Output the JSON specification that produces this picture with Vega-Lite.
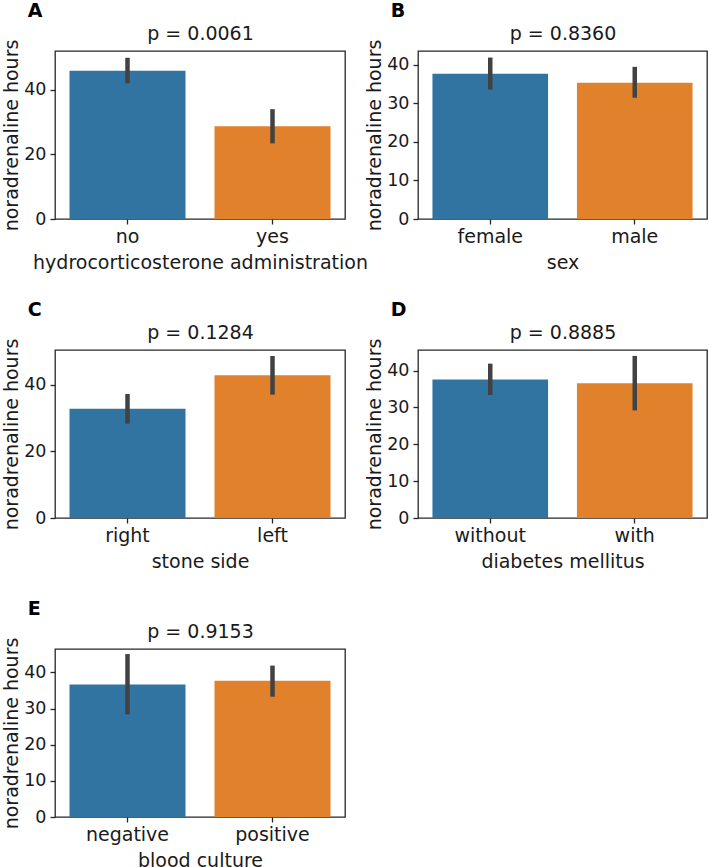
{
  "$schema": "https://vega.github.io/schema/vega-lite/v6.json",
  "background": "white",
  "padding": {"left": 2, "top": 1, "right": 0, "bottom": 0},
  "datasets": {
    "stats": [
      {"panel": "A", "group": "no", "mean": 45.9, "lo": 42.0, "hi": 49.9},
      {"panel": "A", "group": "yes", "mean": 28.7, "lo": 23.4, "hi": 34.0},
      {"panel": "B", "group": "female", "mean": 37.6, "lo": 33.5, "hi": 41.8},
      {"panel": "B", "group": "male", "mean": 35.3, "lo": 31.4, "hi": 39.4},
      {"panel": "C", "group": "right", "mean": 32.8, "lo": 28.3, "hi": 37.2},
      {"panel": "C", "group": "left", "mean": 42.8, "lo": 37.0, "hi": 48.6},
      {"panel": "D", "group": "without", "mean": 37.6, "lo": 33.4, "hi": 41.9},
      {"panel": "D", "group": "with", "mean": 36.55, "lo": 29.2, "hi": 44.0},
      {"panel": "E", "group": "negative", "mean": 36.7, "lo": 28.4, "hi": 45.1},
      {"panel": "E", "group": "positive", "mean": 37.7, "lo": 33.3, "hi": 41.9}
    ]
  },
  "data": {"name": "stats"},
  "columns": 2,
  "bounds": "flush",
  "spacing": {"row": 131, "column": 73},
  "concat": [
    {
      "title": {"text": "A"},
      "width": 290, "height": 168,
      "transform": [{"filter": "datum.panel == 'A'"}],
      "resolve": {"axis": {"x": "independent"}},
      "layer": [
        {
          "mark": {"type": "bar"},
          "encoding": {
            "x": {"field": "group", "type": "nominal", "sort": ["no", "yes"], "scale": {"paddingInner": 0.2, "paddingOuter": 0.1}, "axis": {"title": "hydrocorticosterone administration"}},
            "y": {"field": "mean", "type": "quantitative", "scale": {"domain": [0, 52], "nice": false}, "axis": {"values": [0, 20, 40], "title": "noradrenaline hours"}},
            "color": {"field": "group", "type": "nominal", "legend": null, "scale": {"domain": ["no", "yes", "female", "male", "right", "left", "without", "with", "negative", "positive"], "range": ["#3274a1", "#e1812c", "#3274a1", "#e1812c", "#3274a1", "#e1812c", "#3274a1", "#e1812c", "#3274a1", "#e1812c"]}}
          }
        },
        {
          "mark": {"type": "rule", "color": "#424242", "strokeWidth": 4.5},
          "encoding": {
            "x": {"field": "group", "type": "nominal", "sort": ["no", "yes"], "axis": {"orient": "top", "title": "p = 0.0061"}},
            "y": {"field": "lo", "type": "quantitative"},
            "y2": {"field": "hi"}
          }
        }
      ]
    },
    {
      "title": {"text": "B"},
      "width": 289, "height": 168,
      "transform": [{"filter": "datum.panel == 'B'"}],
      "resolve": {"axis": {"x": "independent"}},
      "layer": [
        {
          "mark": {"type": "bar"},
          "encoding": {
            "x": {"field": "group", "type": "nominal", "sort": ["female", "male"], "scale": {"paddingInner": 0.2, "paddingOuter": 0.1}, "axis": {"title": "sex"}},
            "y": {"field": "mean", "type": "quantitative", "scale": {"domain": [0, 43.5], "nice": false}, "axis": {"values": [0, 10, 20, 30, 40], "title": "noradrenaline hours"}},
            "color": {"field": "group", "type": "nominal", "legend": null}
          }
        },
        {
          "mark": {"type": "rule", "color": "#424242", "strokeWidth": 4.5},
          "encoding": {
            "x": {"field": "group", "type": "nominal", "sort": ["female", "male"], "axis": {"orient": "top", "title": "p = 0.8360"}},
            "y": {"field": "lo", "type": "quantitative"},
            "y2": {"field": "hi"}
          }
        }
      ]
    },
    {
      "title": {"text": "C"},
      "width": 290, "height": 168,
      "transform": [{"filter": "datum.panel == 'C'"}],
      "resolve": {"axis": {"x": "independent"}},
      "layer": [
        {
          "mark": {"type": "bar"},
          "encoding": {
            "x": {"field": "group", "type": "nominal", "sort": ["right", "left"], "scale": {"paddingInner": 0.2, "paddingOuter": 0.1}, "axis": {"title": "stone side"}},
            "y": {"field": "mean", "type": "quantitative", "scale": {"domain": [0, 50.4], "nice": false}, "axis": {"values": [0, 20, 40], "title": "noradrenaline hours"}},
            "color": {"field": "group", "type": "nominal", "legend": null}
          }
        },
        {
          "mark": {"type": "rule", "color": "#424242", "strokeWidth": 4.5},
          "encoding": {
            "x": {"field": "group", "type": "nominal", "sort": ["right", "left"], "axis": {"orient": "top", "title": "p = 0.1284"}},
            "y": {"field": "lo", "type": "quantitative"},
            "y2": {"field": "hi"}
          }
        }
      ]
    },
    {
      "title": {"text": "D"},
      "width": 289, "height": 168,
      "transform": [{"filter": "datum.panel == 'D'"}],
      "resolve": {"axis": {"x": "independent"}},
      "layer": [
        {
          "mark": {"type": "bar"},
          "encoding": {
            "x": {"field": "group", "type": "nominal", "sort": ["without", "with"], "scale": {"paddingInner": 0.2, "paddingOuter": 0.1}, "axis": {"title": "diabetes mellitus"}},
            "y": {"field": "mean", "type": "quantitative", "scale": {"domain": [0, 45.6], "nice": false}, "axis": {"values": [0, 10, 20, 30, 40], "title": "noradrenaline hours"}},
            "color": {"field": "group", "type": "nominal", "legend": null}
          }
        },
        {
          "mark": {"type": "rule", "color": "#424242", "strokeWidth": 4.5},
          "encoding": {
            "x": {"field": "group", "type": "nominal", "sort": ["without", "with"], "axis": {"orient": "top", "title": "p = 0.8885"}},
            "y": {"field": "lo", "type": "quantitative"},
            "y2": {"field": "hi"}
          }
        }
      ]
    },
    {
      "title": {"text": "E"},
      "width": 290, "height": 168,
      "transform": [{"filter": "datum.panel == 'E'"}],
      "resolve": {"axis": {"x": "independent"}},
      "layer": [
        {
          "mark": {"type": "bar"},
          "encoding": {
            "x": {"field": "group", "type": "nominal", "sort": ["negative", "positive"], "scale": {"paddingInner": 0.2, "paddingOuter": 0.1}, "axis": {"title": "blood culture"}},
            "y": {"field": "mean", "type": "quantitative", "scale": {"domain": [0, 46.5], "nice": false}, "axis": {"values": [0, 10, 20, 30, 40], "title": "noradrenaline hours"}},
            "color": {"field": "group", "type": "nominal", "legend": null}
          }
        },
        {
          "mark": {"type": "rule", "color": "#424242", "strokeWidth": 4.5},
          "encoding": {
            "x": {"field": "group", "type": "nominal", "sort": ["negative", "positive"], "axis": {"orient": "top", "title": "p = 0.9153"}},
            "y": {"field": "lo", "type": "quantitative"},
            "y2": {"field": "hi"}
          }
        }
      ]
    }
  ],
  "config": {
    "font": "DejaVu Sans",
    "view": {"stroke": "#262626", "strokeWidth": 1.3},
    "axis": {
      "domain": false, "grid": false,
      "tickColor": "#262626", "tickWidth": 1.3, "tickSize": 5,
      "labelColor": "#1a1a1a", "titleColor": "#1a1a1a",
      "labelFont": "DejaVu Sans", "titleFont": "DejaVu Sans",
      "titleFontWeight": "normal", "titleFontSize": 19
    },
    "axisY": {"labelFontSize": 17.5, "labelPadding": 4, "titlePadding": 2},
    "axisBottom": {"labelFontSize": 19, "labelAngle": 0, "labelPadding": 3, "titlePadding": 7},
    "axisTop": {"labels": false, "ticks": false, "titleFontSize": 19, "titlePadding": 8},
    "title": {"font": "DejaVu Sans", "fontSize": 19, "fontWeight": "bold", "color": "#000000", "anchor": "start", "frame": "bounds", "dx": 25, "offset": 3}
  }
}
